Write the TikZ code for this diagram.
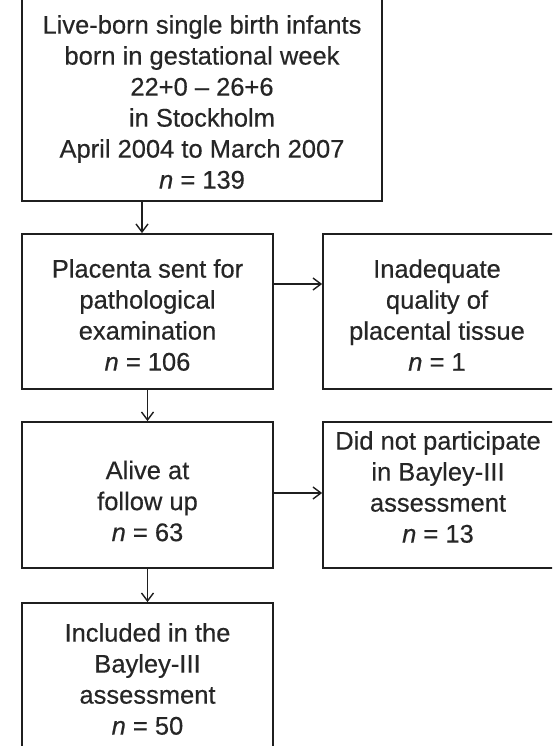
\documentclass[tikz,border=0pt]{standalone}
\usepackage{fontspec}
\setmainfont[FakeBold=0.4]{Liberation Sans}
\usetikzlibrary{arrows.meta}
\begin{document}
\begin{tikzpicture}[x=1pt,y=-1pt,
  flowbox/.style={draw=black!88,line width=1.8pt,rectangle,inner sep=0pt},
  flowtext/.style={align=center,inner sep=0pt,font=\fontsize{25.5}{31}\selectfont,text=black!85},
  flowarrow/.style={draw=black!88,line width=1.4pt,-{Straight Barb[length=8pt,width=12pt,line width=1.4pt]}}]
  \useasboundingbox (0,0) rectangle (552,746);
  \clip (0,0) rectangle (552,746);
  \fill[white] (0,0) rectangle (552,746);

  % boxes
  \node[flowbox,minimum width=360pt,minimum height=213pt] (top) at (202,94.5) {};
  \node[flowbox,minimum width=251pt,minimum height=155pt] (placenta) at (147.5,311.5) {};
  \node[flowbox,minimum width=233pt,minimum height=155pt] (inadequate) at (439.5,311.5) {};
  \node[flowbox,minimum width=251pt,minimum height=146pt] (alive) at (147.5,495) {};
  \node[flowbox,minimum width=233pt,minimum height=146pt] (noparticipate) at (439.5,495) {};
  \node[flowbox,minimum width=251pt,minimum height=157pt] (included) at (147.5,681.5) {};

  % texts
  \node[flowtext] (toptext) at (202,102) {Live-born single birth infants\\born in gestational week\\22+0 -- 26+6\\in Stockholm\\April 2004 to March 2007\\\textit{n} = 139};
  \node[flowtext] (placentatext) at (147.5,315) {Placenta sent for\\pathological\\examination\\\textit{n} = 106};
  \node[flowtext] (inadequatetext) at (437,315) {Inadequate\\quality of\\placental tissue\\\textit{n} = 1};
  \node[flowtext] (alivetext) at (147.5,501) {Alive at\\follow up\\\textit{n} = 63};
  \node[flowtext] (noparticipatetext) at (438,487) {Did not participate\\in Bayley-III\\assessment\\\textit{n} = 13};
  \node[flowtext] (includedtext) at (147.5,679) {Included in the\\Bayley-III\\assessment\\\textit{n} = 50};

  % connectors
  \draw[flowarrow] ([xshift=-5.5pt]placenta.north |- top.south) -- ([xshift=-5.5pt]placenta.north);
  \draw[flowarrow] ([yshift=27.5pt]placenta.east) -- ([yshift=27.5pt]inadequate.west);
  \draw[flowarrow] (placenta.south) -- (alive.north);
  \draw[flowarrow] ([yshift=2pt]alive.east) -- ([yshift=2pt]noparticipate.west);
  \draw[flowarrow] (alive.south) -- (included.north);
\end{tikzpicture}
\end{document}
